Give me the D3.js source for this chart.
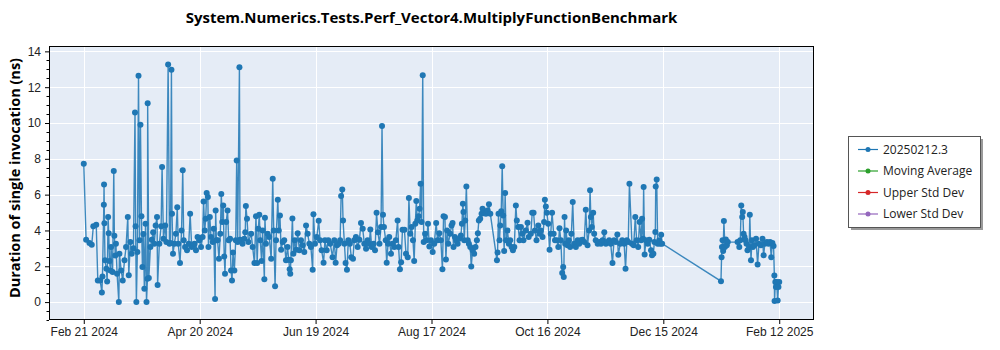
<!DOCTYPE html>
<html>
<head>
<meta charset="utf-8">
<script src="https://cdn.jsdelivr.net/npm/d3@7"></script>
<style>
  html, body { margin: 0; padding: 0; background: #fff; }
  svg { display: block; font-family: "Open Sans", "Noto Sans", sans-serif; }
</style>
</head>
<body>
<svg id="chart" width="1000" height="350"></svg>
<script>
// Benchmark: System.Numerics.Tests.Perf_Vector4.MultiplyFunctionBenchmark
const chartTitle = "System.Numerics.Tests.Perf_Vector4.MultiplyFunctionBenchmark";
const yAxisTitle = "Duration of single invocation (ns)";
const firstRunDate = Date.UTC(2024, 1, 21);

// Each run: [days since first run, duration in ns]
const runs = [
  [0,7.73],[1.2,3.48],[2.9,3.30],[4.1,3.20],[4.9,4.23],[6.4,4.32],[7.2,1.21],[8.4,1.21],[9.3,0.54],[9.6,1.43],
  [10.3,5.44],[10.4,6.57],[10.6,4.40],[10.9,2.33],[11.6,1.86],[12.0,1.15],[12.5,4.75],[12.8,3.85],[13.2,2.30],[13.7,1.77],
  [14.0,3.07],[14.8,1.68],[15.4,7.32],[15.7,3.70],[16.2,2.60],[16.5,3.26],[17.1,1.58],[18.0,0.00],[18.3,2.70],[19.2,1.77],
  [20.0,1.21],[20.9,2.33],[21.7,3.07],[22.6,4.75],[23.1,1.50],[23.9,3.35],[24.6,2.70],[25.5,3.00],[26.3,10.58],[26.6,4.23],
  [27.0,0.00],[27.5,2.80],[28.1,12.64],[28.6,3.45],[29.1,9.90],[29.6,4.80],[30.1,1.96],[30.6,3.80],[31.1,0.75],[31.7,4.38],
  [32.2,0.00],[32.7,1.30],[32.8,11.10],[33.4,1.34],[34.2,3.07],[34.9,3.48],[35.6,3.90],[36.2,3.26],[36.9,4.28],[37.6,4.75],
  [37.9,0.95],[38.8,3.26],[39.7,4.23],[40.2,7.54],[40.9,3.54],[41.8,4.28],[42.4,3.35],[43.3,13.26],[44.0,3.26],[44.5,3.30],
  [45.0,12.98],[45.3,4.93],[45.8,2.70],[46.5,3.26],[47.3,3.82],[48.0,5.30],[48.5,3.26],[49.4,2.18],[50.2,4.00],[50.8,7.36],
  [51.3,3.45],[52.0,3.07],[53.0,2.90],[53.9,3.26],[54.6,4.93],[55.4,3.07],[56.1,3.17],[56.8,3.26],[57.6,2.90],[58.4,3.63],
  [59.3,3.45],[60.2,3.07],[61.0,3.63],[61.5,5.62],[62.1,4.00],[62.6,4.66],[63.1,6.09],[63.7,5.87],[64.0,3.07],[64.7,4.75],
  [65.3,3.63],[66.2,3.35],[66.7,4.10],[67.4,0.17],[67.7,5.12],[68.1,3.45],[68.7,3.45],[69.4,2.42],[70.1,3.82],[70.6,6.03],
  [71.1,4.47],[71.6,5.40],[72.1,2.55],[72.5,1.58],[73.1,4.47],[73.8,5.12],[74.4,3.45],[75.1,3.54],[75.6,1.77],[76.1,1.21],
  [76.6,2.77],[77.3,1.77],[78.0,3.45],[78.5,7.91],[79.0,3.35],[79.9,13.11],[80.2,3.48],[80.9,3.45],[81.5,3.26],[82.4,3.54],
  [82.9,3.90],[83.2,5.36],[83.8,4.66],[84.5,3.35],[85.9,3.82],[86.7,3.07],[87.6,2.18],[88.4,4.79],[89.0,2.18],[89.6,4.10],
  [90.1,4.88],[90.6,3.45],[91.3,2.29],[91.8,4.00],[92.7,1.27],[93.0,4.71],[93.5,3.26],[94.4,3.82],[95.2,3.63],[96.2,2.42],
  [97.0,6.89],[97.5,4.00],[98.2,0.88],[98.7,3.45],[99.6,5.72],[100.1,4.00],[100.7,4.84],[101.3,2.92],[102.1,3.35],[102.9,3.45],
  [103.8,2.33],[104.6,3.07],[105.2,2.36],[105.7,1.84],[106.0,1.58],[106.3,2.33],[107.1,4.67],[107.6,2.70],[108.3,3.45],[109.0,2.92],
  [109.8,3.85],[110.7,2.90],[111.5,3.45],[112.4,3.17],[113.2,2.80],[114.1,4.28],[114.9,3.82],[115.8,3.26],[116.6,3.07],[117.5,1.80],
  [117.9,4.90],[118.7,3.26],[119.6,3.63],[120.6,4.54],[121.3,3.45],[122.1,2.90],[123.1,2.20],[123.8,3.45],[124.7,2.90],[125.5,3.45],
  [126.5,3.26],[127.7,2.51],[128.6,3.45],[129.3,2.20],[130.0,3.17],[130.9,3.26],[131.6,3.45],[132.1,5.92],[132.7,6.29],[133.1,4.56],
  [133.8,3.26],[134.4,2.18],[135.1,1.80],[135.8,3.45],[136.6,3.26],[137.3,2.51],[138.2,2.42],[138.8,3.45],[139.7,3.63],[140.6,3.07],
  [141.5,3.48],[142.3,4.41],[143.2,4.10],[144.0,3.26],[144.9,2.98],[145.7,3.45],[146.6,3.26],[147.1,4.06],[147.8,3.07],[148.8,3.26],
  [149.5,2.90],[150.3,4.99],[151.0,3.90],[151.8,3.26],[152.6,4.19],[153.1,9.83],[153.6,4.88],[154.1,4.19],[155.0,3.45],[155.5,2.20],
  [156.2,3.26],[156.8,3.63],[157.7,2.70],[158.5,3.26],[159.4,3.07],[160.2,3.45],[161.1,4.56],[161.6,3.07],[162.3,1.84],[162.9,2.23],
  [163.6,4.04],[164.6,4.04],[165.4,2.70],[166.3,2.51],[166.9,5.81],[167.6,3.82],[168.3,4.19],[169.0,3.45],[169.6,2.29],[170.2,4.38],
  [170.7,5.64],[171.2,4.56],[171.9,4.80],[172.4,5.21],[172.9,6.61],[173.4,4.47],[174.0,12.66],[174.5,3.35],[175.2,3.82],[176.0,3.45],
  [176.7,4.38],[177.4,3.11],[178.2,3.45],[179.1,2.80],[179.9,3.26],[180.9,4.41],[181.6,3.45],[182.5,3.85],[183.3,3.45],[184.1,1.84],
  [184.7,4.80],[185.4,4.75],[185.9,2.38],[186.5,4.00],[187.1,3.26],[188.1,3.82],[188.8,4.28],[189.3,4.41],[189.8,3.07],[190.5,3.63],
  [191.2,3.45],[191.9,3.26],[192.7,3.54],[193.6,3.72],[194.1,4.38],[194.6,5.49],[194.9,5.03],[195.3,3.45],[195.8,4.56],[196.4,6.46],
  [197.1,3.45],[197.7,3.26],[198.4,3.07],[198.9,1.99],[199.6,2.90],[200.4,2.70],[201.1,3.07],[201.8,3.45],[202.3,3.85],[202.8,4.56],
  [203.5,4.66],[204.2,4.93],[204.7,5.21],[205.5,4.97],[206.4,4.93],[207.2,5.12],[208.0,5.46],[208.7,4.93],[212.1,2.33],[212.4,2.77],
  [212.9,4.93],[213.4,3.45],[213.8,4.28],[214.3,5.07],[214.8,7.58],[215.3,4.84],[215.8,2.85],[216.3,6.09],[216.8,3.45],[217.5,4.00],
  [218.2,3.26],[218.9,3.45],[219.6,3.07],[220.3,2.90],[221.0,3.07],[221.8,5.40],[222.3,4.56],[223.0,4.19],[223.7,3.45],[224.4,4.19],
  [225.1,3.82],[225.7,3.45],[226.9,4.00],[227.8,4.43],[228.4,3.63],[229.5,3.82],[230.2,4.99],[230.9,4.99],[231.6,4.00],[232.4,3.45],
  [233.3,4.28],[234.0,3.82],[234.6,4.00],[235.5,3.63],[236.3,4.47],[236.7,5.72],[237.2,5.34],[237.7,4.99],[238.4,4.38],[239.1,2.92],
  [239.7,3.82],[240.4,4.99],[241.2,3.82],[241.9,3.45],[242.9,3.45],[243.6,3.07],[244.2,4.13],[244.9,3.45],[245.6,1.62],[246.1,1.96],
  [246.4,1.40],[246.8,4.75],[247.1,3.26],[247.6,4.00],[248.3,3.17],[249.0,3.45],[249.7,3.07],[250.3,3.82],[251.0,5.59],[251.7,3.26],
  [252.6,3.07],[253.5,3.45],[254.3,3.26],[255.2,3.45],[256.0,3.48],[256.9,3.35],[257.7,5.16],[258.6,3.17],[259.4,4.00],[259.9,6.24],
  [260.3,4.75],[260.8,4.19],[261.5,4.99],[262.0,3.82],[262.8,3.45],[263.8,3.26],[264.6,3.35],[265.5,3.26],[266.3,3.45],[267.2,3.90],
  [268.0,3.26],[268.8,3.35],[269.7,3.45],[270.5,3.26],[271.4,2.18],[272.2,3.45],[273.1,3.35],[273.9,3.78],[274.4,2.64],[275.4,3.26],
  [276.4,3.45],[277.4,3.26],[278.1,1.86],[278.8,3.45],[279.5,3.35],[280.1,6.61],[281.4,3.26],[282.3,3.17],[283.1,4.75],[283.8,3.45],
  [284.6,3.07],[285.3,4.47],[286.1,3.45],[286.6,4.66],[287.1,3.54],[287.4,6.42],[287.9,2.66],[288.6,3.45],[289.5,3.26],[290.3,3.48],
  [291.2,2.90],[291.7,2.61],[292.4,2.70],[292.9,3.35],[293.4,3.91],[293.6,6.46],[294.1,6.85],[294.6,3.26],[295.4,3.45],[295.9,3.26],
  [296.4,3.76],[296.9,3.26],[327.1,1.17],[327.4,2.51],[327.6,3.07],[327.9,3.45],[328.2,2.85],[328.6,4.53],[329.1,3.07],[329.6,3.50],
  [330.1,3.17],[330.6,3.35],[335.6,3.35],[336.5,3.07],[337.0,3.45],[337.5,5.40],[338.0,4.75],[338.3,5.03],[338.7,3.82],[339.2,3.63],
  [339.7,3.45],[340.2,3.26],[340.7,2.90],[341.6,3.07],[341.9,4.88],[342.5,2.33],[343.0,3.45],[343.5,3.07],[344.2,3.17],[345.1,3.54],
  [345.9,2.10],[346.6,3.26],[347.6,3.17],[348.4,3.54],[349.0,2.61],[349.6,3.26],[350.7,3.35],[351.5,3.26],[352.3,3.35],[352.9,2.51],
  [353.5,3.30],[354.1,3.13],[354.5,1.49],[354.6,0.06],[355.0,1.12],[355.3,0.84],[355.7,1.12],[356.2,0.09],[356.6,0.84],[357.0,1.12]
];

const xTickLabels = ["Feb 21 2024", "Apr 20 2024", "Jun 19 2024", "Aug 17 2024", "Oct 16 2024", "Dec 15 2024", "Feb 12 2025"];
const yTicks = [0, 2, 4, 6, 8, 10, 12, 14];
const legendNames = ["20250212.3", "Moving Average", "Upper Std Dev", "Lower Std Dev"];
const legendColors = ["#1f77b4", "#2ca02c", "#d62728", "#9467bd"];

const DAY = 86400000;
const points = runs.map(([d, v]) => ({ date: new Date(firstRunDate + d * DAY), value: v }));

const svg = d3.select("#chart");
const plot = { left: 49, right: 814, top: 46, bottom: 320 };

// time axis padded by 5% of the run span on each side
const [t0, t1] = d3.extent(points, p => p.date);
const pad = (t1 - t0) * 0.05;
const x = d3.scaleUtc()
  .domain([new Date(+t0 - pad), new Date(+t1 + pad)])
  .range([plot.left, plot.right]);
const xTickDates = xTickLabels.map((_, i) => new Date(+t0 + (t1 - t0) * i / (xTickLabels.length - 1)));

const y = d3.scaleLinear().domain([-1, 14.3]).range([plot.bottom, plot.top]);

// background
svg.append("rect")
  .attr("x", plot.left).attr("y", plot.top)
  .attr("width", plot.right - plot.left).attr("height", plot.bottom - plot.top)
  .attr("fill", "#e5ecf6");

// grid
const grid = svg.append("g").attr("stroke", "#fff").attr("stroke-width", 1);
grid.selectAll("line.h").data(yTicks).join("line")
  .attr("x1", plot.left).attr("x2", plot.right)
  .attr("y1", d => Math.round(y(d)) + 0.5).attr("y2", d => Math.round(y(d)) + 0.5);
grid.selectAll("line.v").data(xTickDates).join("line")
  .attr("y1", plot.top).attr("y2", plot.bottom)
  .attr("x1", d => Math.round(x(d)) + 0.5).attr("x2", d => Math.round(x(d)) + 0.5);

// series
svg.append("clipPath").attr("id", "plotClip").append("rect")
  .attr("x", plot.left).attr("y", plot.top)
  .attr("width", plot.right - plot.left).attr("height", plot.bottom - plot.top);
const series = svg.append("g").attr("clip-path", "url(#plotClip)");
const line = d3.line().x(p => x(p.date)).y(p => y(p.value));
series.append("path")
  .datum(points)
  .attr("d", line)
  .attr("fill", "none")
  .attr("stroke", "#1f77b4")
  .attr("stroke-opacity", 0.85)
  .attr("stroke-width", 1.4);
series.selectAll("circle").data(points).join("circle")
  .attr("cx", p => x(p.date)).attr("cy", p => y(p.value))
  .attr("r", 3)
  .attr("fill", "#1f77b4");

// frame
svg.append("rect")
  .attr("x", plot.left + 0.5).attr("y", plot.top + 0.5)
  .attr("width", plot.right - plot.left - 1).attr("height", plot.bottom - plot.top - 1)
  .attr("fill", "none").attr("stroke", "#000").attr("stroke-width", 1);

// y axis
const yAxis = svg.append("g").attr("transform", `translate(${plot.left},0)`)
  .call(d3.axisLeft(y).tickValues(yTicks).tickSize(4).tickPadding(4).tickFormat(d3.format("d")));
yAxis.select(".domain").remove();
yAxis.selectAll("text").attr("font-size", 12).attr("fill", "#222");
const yMinor = d3.range(-1, 14.01, 0.5).filter(v => !yTicks.includes(v));
svg.append("g").attr("stroke", "#000").selectAll("line").data(yMinor).join("line")
  .attr("x1", plot.left - 2.5).attr("x2", plot.left)
  .attr("y1", d => Math.round(y(d)) + 0.5).attr("y2", d => Math.round(y(d)) + 0.5);

// x axis
const xAxis = svg.append("g").attr("transform", `translate(0,${plot.bottom})`)
  .call(d3.axisBottom(x).tickValues(xTickDates).tickSize(4).tickPadding(3)
    .tickFormat((d, i) => xTickLabels[i]));
xAxis.select(".domain").remove();
xAxis.selectAll("text").attr("font-size", 12).attr("fill", "#222");

// titles
svg.append("text")
  .attr("x", (plot.left + plot.right) / 2).attr("y", 23)
  .attr("text-anchor", "middle")
  .attr("font-size", 15).attr("font-weight", 700)
  .attr("fill", "#000")
  .text(chartTitle);
svg.append("text")
  .attr("transform", `translate(20,178) rotate(-90)`)
  .attr("text-anchor", "middle")
  .attr("font-size", 14.5).attr("font-weight", 700)
  .attr("fill", "#000")
  .text(yAxisTitle);

// legend
const lg = { x: 848, y: 136, w: 132, h: 91 };
svg.append("rect").attr("x", lg.x + 3).attr("y", lg.y + 3).attr("width", lg.w).attr("height", lg.h).attr("fill", "#9a9a9a");
svg.append("rect").attr("x", lg.x + 0.5).attr("y", lg.y + 0.5).attr("width", lg.w).attr("height", lg.h)
  .attr("fill", "#fff").attr("stroke", "#555");
const items = svg.append("g").selectAll("g").data(legendNames).join("g")
  .attr("transform", (d, i) => `translate(${lg.x},${lg.y + 13.5 + i * 21.5})`);
items.append("line").attr("x1", 10).attr("x2", 30).attr("y1", 0).attr("y2", 0)
  .attr("stroke", (d, i) => legendColors[i]).attr("stroke-width", 1.2);
items.append("circle").attr("cx", 20).attr("cy", 0).attr("r", 2.5)
  .attr("fill", (d, i) => legendColors[i]);
items.append("text").attr("x", 35).attr("y", 0).attr("dy", "0.35em")
  .attr("font-size", 12).attr("fill", "#222").text(d => d);
</script>
</body>
</html>
